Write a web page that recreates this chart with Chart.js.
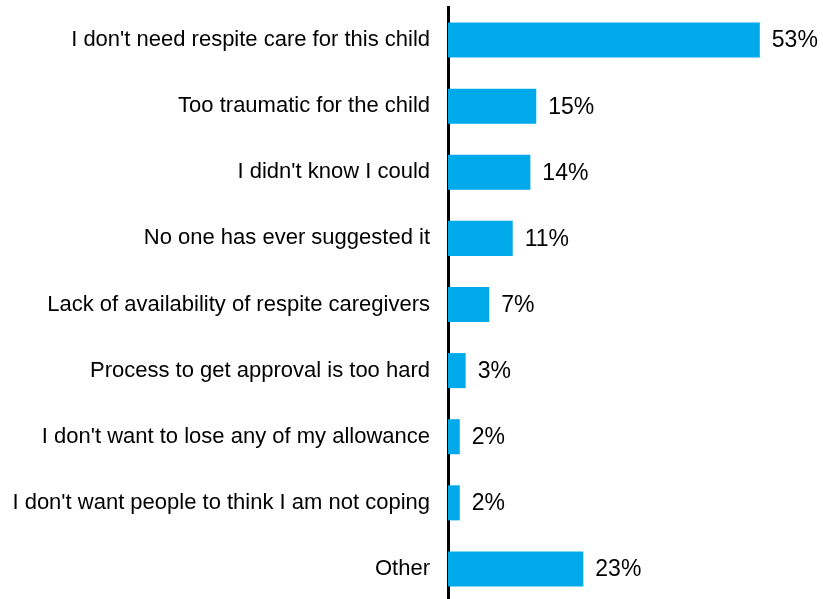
<!DOCTYPE html>
<html>
<head>
<meta charset="utf-8">
<script src="https://cdn.jsdelivr.net/npm/chart.js@4"></script>
<style>
  html, body { margin: 0; padding: 0; background: #fff; overflow: hidden; }
  #wrap { width: 823px; height: 602px; }
</style>
</head>
<body>
<div id="wrap"><canvas id="barChart"></canvas></div>
<script>
// du lieu
var reasons = [
  "I don't need respite care for this child",
  "Too traumatic for the child",
  "I didn't know I could",
  "No one has ever suggested it",
  "Lack of availability of respite caregivers",
  "Process to get approval is too hard",
  "I don't want to lose any of my allowance",
  "I don't want people to think I am not coping",
  "Other"
];
var percents = [53, 15, 14, 11, 7, 3, 2, 2, 23];

// ve nhan % o cuoi thanh
var valueLabels = {
  id: 'valueLabels',
  afterDatasetsDraw: function(chart) {
    var ctx = chart.ctx;
    var meta = chart.getDatasetMeta(0);
    ctx.save();
    ctx.font = '23px "Liberation Sans", Arial, sans-serif';
    ctx.fillStyle = '#000';
    ctx.textAlign = 'left';
    ctx.textBaseline = 'middle';
    meta.data.forEach(function(bar, i) {
      ctx.fillText(percents[i] + '%', bar.x + 12, bar.y + 1);
    });
    ctx.restore();
  }
};

var ctx = document.getElementById('barChart').getContext('2d');
var chart = new Chart(ctx, {
  type: 'bar',
  data: {
    labels: reasons,
    datasets: [{
      data: percents,
      backgroundColor: '#00a9ea',
      borderWidth: 0,
      barPercentage: 0.53,
      categoryPercentage: 1
    }]
  },
  options: {
    indexAxis: 'y',
    responsive: true,
    maintainAspectRatio: false,
    animation: false,
    layout: { padding: { top: 7, right: 22, bottom: 0, left: 0 } },
    plugins: {
      legend: { display: false },
      tooltip: { enabled: false }
    },
    scales: {
      x: {
        display: false,
        min: 0,
        max: 60
      },
      y: {
        afterFit: function(scale) {
          scale.width = 448;
          scale.paddingTop = 0;
          scale.paddingBottom = 0;
        },
        grid: { display: false, drawTicks: false },
        border: { display: true, color: '#000', width: 3 },
        ticks: {
          padding: 18,
          color: '#000',
          font: { family: '"Liberation Sans", Arial, sans-serif', size: 22 }
        }
      }
    }
  },
  plugins: [valueLabels]
});
</script>
</body>
</html>
